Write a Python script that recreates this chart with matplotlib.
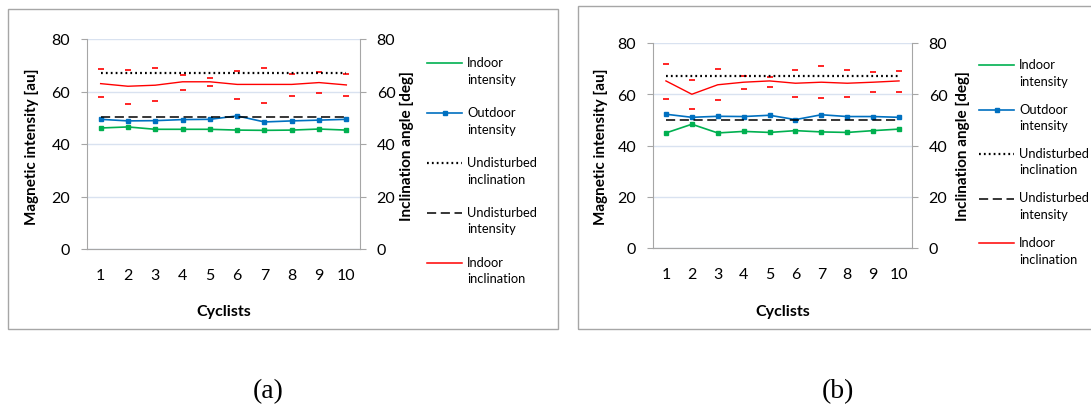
import matplotlib
matplotlib.use("Agg")
import matplotlib.pyplot as plt
from matplotlib.lines import Line2D
from matplotlib.patches import Rectangle

plt.rcParams['font.family'] = ['Lato', 'DejaVu Sans']

# cyclist numbers on the x axis
cyclists = [1, 2, 3, 4, 5, 6, 7, 8, 9, 10]
tick_labels = ['1', '2', '3', '4', '5', '6', '7', '8', '9', '10']

# panel (a)
a_indoor_int = [46.1, 46.5, 45.6, 45.6, 45.6, 45.3, 45.2, 45.3, 45.7, 45.3]
a_outdoor_int = [49.4, 48.8, 48.9, 49.3, 49.4, 50.7, 48.4, 48.8, 49.1, 49.4]
a_undist_incl = 67.0
a_undist_int = 50.1
a_indoor_incl = [63.0, 62.0, 62.4, 63.7, 63.7, 62.7, 62.7, 62.7, 63.4, 62.5]
a_incl_hi = [68.4, 68.3, 68.8, 66.4, 65.3, 67.8, 68.8, 66.8, 67.4, 66.8]
a_incl_lo = [57.8, 55.2, 56.5, 60.7, 62.0, 57.3, 55.7, 58.2, 59.5, 58.2]

# panel (b)
b_indoor_int = [44.9, 48.3, 44.9, 45.5, 45.1, 45.8, 45.3, 45.1, 45.8, 46.4]
b_outdoor_int = [52.2, 51.0, 51.4, 51.3, 51.8, 50.1, 52.0, 51.3, 51.3, 51.0]
b_undist_incl = 67.1
b_undist_int = 50.0
b_indoor_incl = [65.2, 60.0, 63.7, 64.7, 65.2, 64.3, 64.7, 64.3, 64.7, 65.2]
b_incl_hi = [71.8, 65.4, 69.9, 67.3, 66.9, 69.5, 71.2, 69.5, 68.6, 68.9]
b_incl_lo = [58.0, 54.1, 57.6, 62.0, 62.8, 58.9, 58.5, 58.9, 60.7, 60.7]

legend_names = ['Indoor\nintensity', 'Outdoor\nintensity', 'Undisturbed\ninclination',
                'Undisturbed\nintensity', 'Indoor\ninclination']

GREEN = '#00B050'
BLUE = '#0070C0'
RED = '#FF0000'
GRID = '#D9E2F0'
SPINE = '#A6A6A6'

W, H = 1091, 406
fig = plt.figure(figsize=(W / 100, H / 100), dpi=100)


def px(x, y):
    return x / W, 1 - y / H


def panel(box, frame, legend_x, legend_y0, legend_step, label_xs, caption, caption_x,
          indoor_int, outdoor_int, undist_incl, undist_int, indoor_incl, hi, lo):
    left, top, right, bottom = box
    x0, y0 = px(left, bottom)
    ax = fig.add_axes([x0, y0, (right - left) / W, (bottom - top) / H])
    ax2 = ax.twinx()

    ax.plot(cyclists, indoor_int, color=GREEN, lw=1.2, marker='s', ms=3.3, zorder=3)
    ax.plot(cyclists, outdoor_int, color=BLUE, lw=1.2, marker='s', ms=3.3, zorder=3)
    ax.plot(cyclists, [undist_int] * len(cyclists), color='black', lw=1.1,
            dashes=(6, 3), zorder=3)
    ax2.plot(cyclists, indoor_incl, color=RED, lw=1.0, zorder=3)
    ax2.plot(cyclists, hi, ls='none', marker='_', ms=5, mew=1.2, color=RED, zorder=3)
    ax2.plot(cyclists, lo, ls='none', marker='_', ms=5, mew=1.2, color=RED, zorder=3)
    ax2.plot(cyclists, [undist_incl] * len(cyclists), color='black', lw=1.6,
             dashes=(0.8, 1.4), zorder=4)

    for a in (ax, ax2):
        a.set_ylim(0, 80)
        a.set_yticks([0, 20, 40, 60, 80])
        a.set_xlim(0.5, 10.5)
        for s in a.spines.values():
            s.set_color(SPINE)
        a.spines['top'].set_visible(False)
        a.tick_params(axis='y', length=4, color=SPINE, labelsize=11.5, pad=8)
    ax.spines['right'].set_visible(False)
    ax2.spines['left'].set_visible(False)
    ax.set_xticks(cyclists)
    ax.set_xticklabels(tick_labels)
    ax.tick_params(axis='x', length=0, labelsize=11.5, pad=14)
    ax.grid(axis='y', color=GRID, lw=1)
    ax.set_axisbelow(True)

    fig.text(*px(label_xs[0], 147), 'Magnetic intensity [au]', rotation=90,
             fontsize=11, fontweight='bold', ha='center', va='center')
    fig.text(*px(label_xs[1], 146), 'Inclination angle [deg]', rotation=90,
             fontsize=11, fontweight='bold', ha='center', va='center')
    fig.text(*px((left + right) / 2, 312), 'Cyclists', fontsize=11.5,
             fontweight='bold', ha='center', va='center')

    # outer frame
    fl, ft, fr, fb = frame
    fig.add_artist(Rectangle(px(fl, fb), (fr - fl) / W, (fb - ft) / H,
                             transform=fig.transFigure, fill=False,
                             edgecolor=SPINE, lw=1))

    # legend, drawn by hand so the key sits beside the first text line
    styles = [dict(color=GREEN, lw=1.2),
              dict(color=BLUE, lw=1.2),
              dict(color='black', lw=1.6, dashes=(0.8, 1.4)),
              dict(color='black', lw=1.1, dashes=(6, 3)),
              dict(color=RED, lw=1.1)]
    for i, (name, st) in enumerate(zip(legend_names, styles)):
        yy = legend_y0 + i * legend_step
        xa, ya = px(legend_x, yy)
        xb, _ = px(legend_x + 35, yy)
        fig.add_artist(Line2D([xa, xb], [ya, ya], transform=fig.transFigure, **st))
        if i == 1:
            fig.add_artist(Line2D([(xa + xb) / 2], [ya], transform=fig.transFigure,
                                  marker='s', ms=3.3, color=BLUE))
        fig.text(*px(legend_x + 40, yy - 7), name, fontsize=9.3, va='top',
                 ha='left', linespacing=1.45)

    fig.text(*px(caption_x, 392), caption, family='Liberation Serif',
             fontsize=20, ha='center', va='center')


panel((87, 40, 360, 250), (8, 10, 558, 330), 427, 64, 50, (32, 407), '(a)', 268,
      a_indoor_int, a_outdoor_int, a_undist_incl, a_undist_int, a_indoor_incl,
      a_incl_hi, a_incl_lo)
panel((653, 44, 912, 249), (578, 7, 1100, 330), 979, 66, 44.5, (601, 963), '(b)', 838,
      b_indoor_int, b_outdoor_int, b_undist_incl, b_undist_int, b_indoor_incl,
      b_incl_hi, b_incl_lo)

fig.savefig('out.png', dpi=100)
